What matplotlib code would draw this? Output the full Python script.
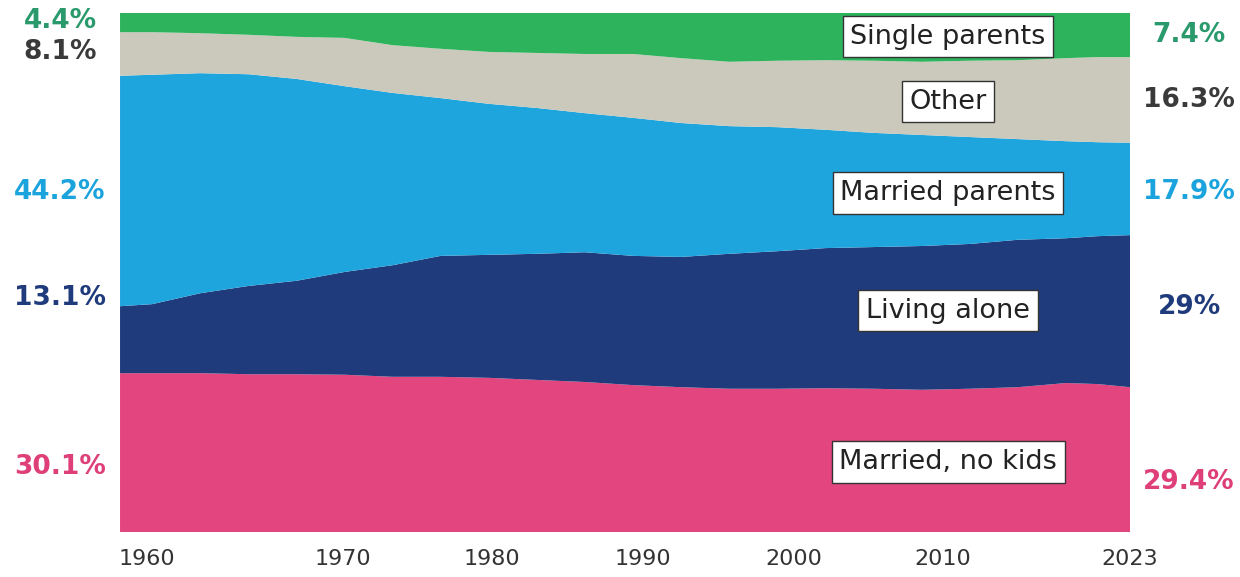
import matplotlib

matplotlib.use("Agg")
import matplotlib.pyplot as plt

# household shares (%)
years = [1960, 1962, 1965, 1968, 1971, 1974, 1977, 1980, 1983, 1986, 1989, 1992,
         1995, 1998, 2001, 2004, 2007, 2010, 2013, 2016, 2019, 2021, 2023]
married_no_kids = [30.6, 30.6, 30.6, 30.4, 30.4, 30.3, 29.9, 29.9, 29.7, 29.3, 28.9, 28.3,
                   27.9, 27.6, 27.6, 27.7, 27.6, 27.4, 27.6, 27.9, 28.7, 28.5, 27.9]
living_alone = [12.9, 13.3, 15.4, 17.0, 18.0, 19.8, 21.5, 23.3, 23.7, 24.3, 25.0, 24.9,
                25.1, 26.0, 26.5, 27.0, 27.3, 27.7, 27.9, 28.4, 27.9, 28.5, 29.3]
married_parents = [44.4, 44.2, 42.4, 40.8, 38.9, 35.8, 33.2, 30.4, 29.1, 28.1, 26.8, 26.6,
                   25.8, 24.6, 23.9, 22.8, 22.0, 21.4, 20.6, 19.4, 18.7, 18.1, 17.8]
other = [8.4, 8.2, 7.7, 7.6, 8.1, 9.3, 9.2, 9.5, 10.0, 10.6, 11.4, 12.3,
         12.5, 12.4, 12.8, 13.4, 13.9, 14.1, 14.7, 15.2, 16.0, 16.4, 16.5]
single_parents = [3.7, 3.7, 3.9, 4.2, 4.6, 4.8, 6.2, 6.9, 7.5, 7.7, 7.9, 7.9,
                  8.7, 9.4, 9.2, 9.1, 9.2, 9.4, 9.2, 9.1, 8.7, 8.5, 8.5]

names = ["Married, no kids", "Living alone", "Married parents", "Other", "Single parents"]
start_labels = ["30.1%", "13.1%", "44.2%", "8.1%", "4.4%"]
end_labels = ["29.4%", "29%", "17.9%", "16.3%", "7.4%"]
tick_labels = ["1960", "1970", "1980", "1990", "2000", "2010", "2023"]

colors = ["#e3457f", "#1f3b7c", "#1fa5dd", "#cbc9bc", "#2db35c"]
text_colors = ["#de3f78", "#1f3b7c", "#1aa3dc", "#3a3a3a", "#2a9a6c"]

fig = plt.figure(figsize=(12.4, 5.77), dpi=100)
ax = fig.add_axes([0.0968, 0.078, 0.8145, 0.8995])

ax.stackplot(years, married_no_kids, living_alone, married_parents, other, single_parents,
             colors=colors, linewidth=0)
ax.set_xlim(1960, 2023)
ax.set_ylim(0, 100)
ax.set_yticks([])
for spine in ax.spines.values():
    spine.set_visible(False)

# labels sit slightly off the year grid in the original print
ax.set_xticks([1961.7, 1973.9, 1983.2, 1992.6, 2002.0, 2011.3, 2023.0])
ax.set_xticklabels(tick_labels, fontsize=16, color="#333333")
ax.tick_params(axis="x", length=0, pad=12)

# series names in white boxes
box_y = [13.5, 42.6, 65.3, 82.9, 95.4]
for name, y in zip(names, box_y):
    ax.text(2011.65, y, name, ha="center", va="center", fontsize=19.5, color="#222222",
            bbox=dict(boxstyle="square,pad=0.28", facecolor="white", edgecolor="#333333", linewidth=1))

# start / end values
left_y = [0.1906, 0.4835, 0.6672, 0.9099, 0.9636]
right_y = [0.1646, 0.468, 0.6672, 0.8267, 0.9393]
for lab, y, c in zip(start_labels, left_y, text_colors):
    fig.text(0.0484, y, lab, ha="center", va="center", fontsize=19, fontweight="bold", color=c)
for lab, y, c in zip(end_labels, right_y, text_colors):
    fig.text(0.9589, y, lab, ha="center", va="center", fontsize=19, fontweight="bold", color=c)

fig.savefig("out.png", dpi=100)
